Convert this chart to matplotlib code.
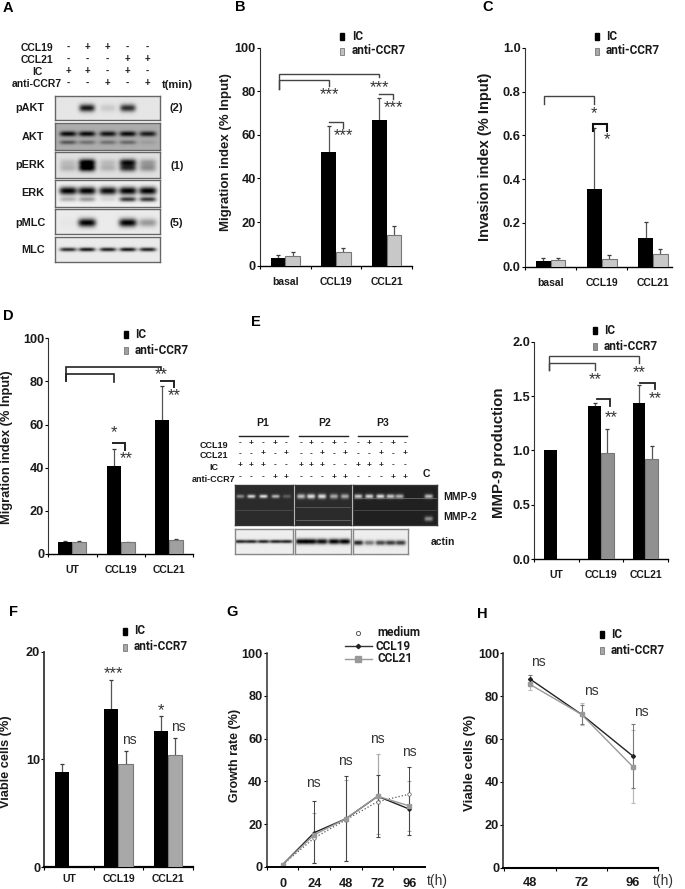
import numpy as np
import matplotlib
matplotlib.use("Agg")
import matplotlib.pyplot as plt
from matplotlib.patches import Rectangle

plt.rcParams['font.family'] = ['Liberation Sans', 'DejaVu Sans']

W, H = 685, 889
LEG_FONT = "Roboto"

# bar panels
cats_b = ["basal", "CCL19", "CCL21"]
cats_ut = ["UT", "CCL19", "CCL21"]

b_ic = [3.7, 52, 67]
b_anti = [4.3, 6.3, 14]
b_ic_top = [5, 64, 77]
b_anti_top = [6.2, 8.3, 18]

c_ic = [0.027, 0.355, 0.13]
c_anti = [0.032, 0.037, 0.058]
c_ic_top = [0.038, 0.632, 0.203]
c_anti_top = [0.042, 0.052, 0.083]

d_ic = [5.5, 41, 62]
d_anti = [5.5, 5.5, 6.5]
d_ic_top = [6, 48.5, 78]
d_anti_top = [6, 5.7, 7]

e_ic = [1.0, 1.41, 1.44]
e_anti = [np.nan, 0.98, 0.92]
e_ic_top = [np.nan, 1.44, 1.6]
e_anti_top = [np.nan, 1.2, 1.04]

f_ic = [8.8, 14.7, 12.6]
f_anti = [np.nan, 9.6, 10.4]
f_ic_top = [9.6, 17.4, 14]
f_anti_top = [np.nan, 10.8, 12]

# line panels
g_t = [0, 24, 48, 72, 96]
g_medium = [1, 13.5, 22, 30.5, 34]
g_ccl19 = [1, 16, 22.5, 33, 27]
g_ccl21 = [1, 15, 22.5, 33, 28.5]
g_ccl19_hi = [1, 31, 42.5, 43, 46.5]
g_ccl19_lo = [1, 1.5, 2.5, 14, 15]
g_ccl21_hi = [1, 25, 40.5, 53, 40]
g_ccl21_lo = [1, 1.5, 2.5, 15.5, 16.5]

h_t = ["48", "72", "96"]
h_ic = [88, 71.5, 52]
h_anti = [85.5, 71.5, 47]
h_ic_hi = [90, 76, 67]
h_ic_lo = [86, 67, 37]
h_anti_hi = [88, 77, 64]
h_anti_lo = [83, 66.5, 30]

# blots, band strength per lane
a_rows = ["pAKT", "AKT", "pERK", "ERK", "pMLC", "MLC"]
a_ccl19 = ["-", "+", "+", "-", "-"]
a_ccl21 = ["-", "-", "-", "+", "+"]
a_ic = ["+", "+", "-", "+", "-"]
a_anti = ["-", "-", "+", "-", "+"]
pakt = [0.0, 0.9, 0.12, 0.8, 0.0]
akt_hi = [0.95, 0.95, 0.9, 0.95, 0.85]
akt_lo = [0.5, 0.35, 0.35, 0.4, 0.1]
perk_hi = [0.15, 1.0, 0.15, 0.9, 0.3]
perk_lo = [0.2, 1.0, 0.2, 0.75, 0.35]
erk_hi = [1.0, 1.0, 0.95, 1.0, 1.0]
erk_lo = [0.25, 0.35, 0.1, 0.75, 0.75]
pmlc = [0.02, 1.0, 0.0, 1.0, 0.35]
mlc = [0.8, 0.9, 0.85, 0.9, 0.85]

e_ccl19 = ["-", "+", "-", "+", "-"]
e_ccl21 = ["-", "-", "+", "-", "+"]
e_icrow = ["+", "+", "+", "-", "-"]
e_antirow = ["-", "-", "-", "+", "+"]
mmp_p1 = [0.45, 0.8, 0.85, 0.65, 0.25]
mmp_p2 = [0.7, 0.85, 0.85, 0.6, 0.6]
mmp_p3 = [0.75, 0.8, 0.85, 0.75, 0.65, 0.7]
actin_p1 = [0.85, 0.85, 0.85, 0.85, 0.85]
actin_p2 = [1.0, 1.0, 0.95, 1.0, 1.0]
actin_p3 = [0.85, 0.5, 0.7, 0.75, 0.75]

fig = plt.figure(figsize=(W / 100, H / 100), dpi=100)


def px_axes(x0, x1, ytop, ybot):
    return fig.add_axes([x0 / W, 1 - ybot / H, (x1 - x0) / W, (ybot - ytop) / H])


# overlay in pixel coordinates for labels and brackets
ov = fig.add_axes([0, 0, 1, 1], zorder=10)
ov.set_xlim(0, W)
ov.set_ylim(H, 0)
ov.axis("off")
ov.patch.set_alpha(0)


def txt(x, y, s, size=7, weight="bold", ha="center", color="#1a1a1a", rot=0, family=None):
    ov.text(x, y, s, fontsize=size, fontweight=weight, ha=ha, va="center", color=color,
            rotation=rot, family=family if family else ['Liberation Sans', 'DejaVu Sans'])


def stars(x, y, s):
    # asterisks sit high in the font, so push them down
    ov.text(x, y + 3, s, fontsize=12, ha="center", va="center", color="#333333")


def ns(x, y):
    txt(x, y, "ns", size=10, weight="normal", color="#333333")


def bracket(x0, x1, y, y0, y1, lw=1.0, color="#444444"):
    ov.plot([x0, x0, x1, x1], [y0, y, y, y1], color=color, lw=lw, solid_joinstyle="miter")


def style_axes(ax, ticks, lw=1.0):
    ax.spines["top"].set_visible(False)
    ax.spines["right"].set_visible(False)
    ax.spines["left"].set_linewidth(lw * 0.8)
    ax.spines["left"].set_color("#333333")
    ax.spines["bottom"].set_linewidth(lw)
    ax.set_yticks(ticks)
    ax.tick_params(axis="y", length=2, width=0.8, labelsize=9.2, pad=1)
    ax.tick_params(axis="x", which="major", length=2, width=0.8, direction="out")
    ax.tick_params(axis="x", which="minor", length=0)
    ax.patch.set_alpha(0)
    for t in ax.get_yticklabels():
        t.set_fontweight("bold")
        t.set_color("#1a1a1a")


def bar_panel(rect, ylim, yfmt, ticks, cats, ic, anti, ic_top, anti_top, anti_col, xmax=2.5, lw=1.0, pad=8):
    ax = px_axes(*rect)
    x = np.arange(3)
    w = 0.29
    ax.vlines(x - w / 2, ic, ic_top, color="#555555", lw=0.9)
    ax.vlines(x + w / 2, anti, anti_top, color="#555555", lw=0.9)
    ax.scatter(x - w / 2, ic_top, marker="_", s=7, color="#333333", lw=0.9)
    ax.scatter(x + w / 2, anti_top, marker="_", s=7, color="#333333", lw=0.9)
    ax.bar(x - w / 2, ic, w, color="black", zorder=3)
    ax.bar(x + w / 2, anti, w, color=anti_col, edgecolor="#777777", lw=0.8, zorder=3)
    ax.set_xlim(-0.5, xmax)
    ax.set_ylim(*ylim)
    style_axes(ax, ticks, lw)
    ax.set_yticklabels([yfmt % t for t in ticks], fontweight="bold")
    ax.set_xticks(np.arange(-0.5, xmax + 0.01, 1.0))
    ax.set_xticklabels([])
    ax.set_xticks(x, minor=True)
    ax.set_xticklabels(cats, minor=True, fontsize=7.5, fontweight="bold", color="#1a1a1a")
    ax.tick_params(axis="x", which="minor", pad=pad)
    return ax


def bar_legend(xm, y1, y2, xt, anti_col):
    ov.add_patch(Rectangle((xm - 2, y1 - 3.5), 4, 7, color="black"))
    ov.add_patch(Rectangle((xm - 2, y2 - 3), 4, 6.5, facecolor=anti_col, edgecolor="#777777", lw=0.6))
    txt(xt, y1, "IC", size=8.5, ha="left", family=LEG_FONT)
    txt(xt, y2, "anti-CCR7", size=8.5, ha="left", family=LEG_FONT)


def blot(rect, bg, bands, dark=True, frame="#666666", extra=None):
    # bands: (y fraction, x fractions of the lanes, strengths, half width, half height)
    ax = px_axes(*rect)
    hh, ww = 60, 200
    yy, xx = np.mgrid[0:1:hh * 1j, 0:1:ww * 1j]
    sig = np.zeros_like(xx)
    for yc, lanes, vals, sx, sy in bands:
        for xc, v in zip(lanes, vals):
            sig = sig + v * np.exp(-((xx - xc) / sx) ** 4 - ((yy - yc) / sy) ** 2)
    sig = np.clip(sig, 0, 1)
    img = bg * (1 - sig) if dark else bg + (1 - bg) * sig
    ax.imshow(img, cmap="gray", vmin=0, vmax=1, extent=(0, 1, 1, 0), aspect="auto")
    if extra:
        for ye, c in extra:
            ax.axhline(ye, color=c, lw=0.5)
    ax.set_xticks([])
    ax.set_yticks([])
    for s in ax.spines.values():
        s.set_color(frame)
        s.set_linewidth(1.0)
    return ax


def signs(xs, y, vals, size=7):
    for x, v in zip(xs, vals):
        txt(x, y, "+" if v == "+" else "-", size=size, weight="bold", color="#222222")


# A
a_x0, a_x1 = 55, 160
a_lanes_px = [68, 87, 108, 128, 148]
a_lanes = [(p - a_x0) / (a_x1 - a_x0) for p in a_lanes_px]
blot((a_x0, a_x1, 96, 120), 0.9, [(0.5, a_lanes, pakt, 0.075, 0.16)])
blot((a_x0, a_x1, 123, 150), 0.68, [(0.4, a_lanes, akt_hi, 0.08, 0.1), (0.72, a_lanes, akt_lo, 0.08, 0.08)])
blot((a_x0, a_x1, 152, 178), 0.88, [(0.4, a_lanes, perk_hi, 0.08, 0.14), (0.62, a_lanes, perk_lo, 0.08, 0.14)])
blot((a_x0, a_x1, 180, 207), 0.94, [(0.4, a_lanes, erk_hi, 0.085, 0.15), (0.72, a_lanes, erk_lo, 0.08, 0.09)])
blot((a_x0, a_x1, 209, 234), 0.92, [(0.55, a_lanes, pmlc, 0.085, 0.17)])
blot((a_x0, a_x1, 237, 262), 0.92, [(0.5, a_lanes, mlc, 0.08, 0.08)])
for yr, name, xr in zip([108, 137, 165, 193, 223, 250], a_rows, [30, 33, 30, 33, 30, 33]):
    txt(xr, yr, name, size=7.8)
for yr, name, vals in zip([48, 60, 72, 84], ["CCL19", "CCL21", "IC", "anti-CCR7"],
                          [a_ccl19, a_ccl21, a_ic, a_anti]):
    txt(37, yr, name, size=7.5)
    signs([68, 87, 107, 127, 147], yr - 1, vals)
txt(177, 85, "t(min)", size=8)
txt(176, 108, "(2)", size=8)
txt(177, 166, "(1)", size=8)
txt(176, 223, "(5)", size=8)

# B
bar_panel((260, 412, 47.7, 265.7), (0, 100), "%d", [0, 20, 40, 60, 80, 100], cats_b,
          b_ic, b_anti, b_ic_top, b_anti_top, "#c8c8c8")
bar_legend(342, 36, 51, 352, "#c0c0c0")
bracket(279, 379, 74, 89, 77)
bracket(279, 329, 80, 89, 86)
stars(329, 92, "***")
stars(379, 85, "***")
bracket(329, 343, 122, 122, 128)
stars(343, 133, "***")
bracket(379, 393, 94, 94, 99)
stars(393, 105, "***")

# C
bar_panel((525, 672, 47.7, 266.7), (0, 1), "%.1f", [0, 0.2, 0.4, 0.6, 0.8, 1.0], cats_b,
          c_ic, c_anti, c_ic_top, c_anti_top, "#c8c8c8", xmax=2.37)
bar_legend(597, 36, 51, 606, "#a8a8a8")
bracket(544, 594, 96, 104, 104)
stars(594, 111, "*")
bracket(593, 607, 124, 131, 131, lw=1.5, color="#111111")
stars(607, 137, "*")

# D
bar_panel((48.3, 193, 338.3, 554), (0, 100), "%d", [0, 20, 40, 60, 80, 100], cats_ut,
          d_ic, d_anti, d_ic_top, d_anti_top, "#a0a0a0")
bar_legend(126, 334, 350, 135, "#a0a0a0")
bracket(66, 161, 367, 381, 370, lw=1.2, color="#222222")
bracket(66, 114, 374, 381, 382, lw=1.2, color="#222222")
stars(114, 430, "*")
stars(161, 372, "**")
bracket(113, 125, 443, 443, 450, lw=1.4, color="#222222")
stars(126, 456, "**")
bracket(161, 174, 381, 381, 387, lw=1.4, color="#222222")
stars(174, 393, "**")

# E blots and zymogram
p1 = [(p - 235) / 58 for p in [240, 251, 263, 275, 286]]
p2 = [(p - 295) / 56 for p in [301, 311, 322, 334, 345]]
p3 = [(p - 353) / 84 for p in [358, 369, 380, 390, 399, 428]]
blot((235, 293, 485, 525), 0.17, [(0.28, p1, mmp_p1, 0.07, 0.045)], dark=False, frame="#333333",
     extra=[(0.62, "#555555")])
blot((295, 351, 485, 525), 0.17, [(0.28, p2, mmp_p2, 0.075, 0.06)], dark=False, frame="#333333",
     extra=[(0.55, "#666666"), (0.88, "#777777")])
blot((353, 437, 485, 525), 0.13, [(0.28, p3, mmp_p3, 0.05, 0.055), (0.85, [p3[5]], [0.5], 0.05, 0.06)],
     dark=False, frame="#333333", extra=[(0.32, "#777777"), (0.62, "#555555")])
ap1 = [(p - 235) / 58 for p in [240, 251, 263, 275, 286]]
ap2 = [(p - 295) / 56 for p in [301, 311, 322, 334, 345]]
ap3 = [(p - 353) / 55 for p in [358, 369, 380, 390, 400]]
blot((235, 293, 529, 554), 0.93, [(0.5, ap1, actin_p1, 0.1, 0.07)], frame="#888888")
blot((295, 351, 529, 554), 0.93, [(0.5, ap2, actin_p2, 0.1, 0.11)], frame="#888888")
blot((353, 408, 529, 554), 0.93, [(0.55, ap3, actin_p3, 0.09, 0.1)], frame="#888888")
for xm, xl, xr, name in zip([263, 325, 383], [239, 299, 358], [288, 348, 407], ["P1", "P2", "P3"]):
    txt(xm, 423, name, size=7.5)
    ov.plot([xl, xr], [436, 436], color="#222222", lw=1.0)
e_groups = [[240, 251, 263, 275, 286], [301, 311, 322, 334, 345], [358, 369, 381, 393, 405]]
for yr, name, vals in zip([445, 456, 467, 479], ["CCL19", "CCL21", "IC", "anti-CCR7"],
                          [e_ccl19, e_ccl21, e_icrow, e_antirow]):
    txt(214, yr, name, size=6.5)
    for g in e_groups:
        signs(g, yr - 2, vals, size=6)
txt(426, 474, "C", size=7.5)
txt(460, 497, "MMP-9", size=7.5)
txt(460, 517, "MMP-2", size=7.5)
txt(443, 542, "actin", size=7.5)

# E bars
bar_panel((534.3, 667.7, 341.7, 559.3), (0, 2), "%.1f", [0, 0.5, 1.0, 1.5, 2.0], cats_ut,
          e_ic, e_anti, e_ic_top, e_anti_top, "#909090", pad=8)
bar_legend(595, 330, 346, 604, "#909090")
bracket(549, 639, 356, 370, 363)
bracket(549, 595, 363, 370, 370)
stars(595, 377, "**")
stars(639, 370, "**")
bracket(597, 610, 399, 399, 406, lw=1.3, color="#222222")
stars(611, 415, "**")
bracket(640, 655, 383, 383, 389, lw=1.3, color="#222222")
stars(655, 396, "**")

# F
bar_panel((44.3, 192.7, 651.7, 867), (0, 20), "%d", [0, 10, 20], cats_ut,
          f_ic, f_anti, f_ic_top, f_anti_top, "#a8a8a8", lw=1.6, pad=5)
bar_legend(125, 631, 647, 134, "#a8a8a8")
stars(113, 671, "***")
stars(161, 708, "*")
ns(129, 740)
ns(178, 727)

# G
ax = px_axes(266.7, 425, 653.3, 866.7)
ax.errorbar(g_t, g_ccl21, yerr=[np.subtract(g_ccl21, g_ccl21_lo), np.subtract(g_ccl21_hi, g_ccl21)],
            fmt="none", ecolor="#aaaaaa", elinewidth=0.9, capsize=1.5, capthick=0.8)
ax.errorbar(g_t, g_ccl19, yerr=[np.subtract(g_ccl19, g_ccl19_lo), np.subtract(g_ccl19_hi, g_ccl19)],
            fmt="none", ecolor="#444444", elinewidth=0.7, capsize=1.5, capthick=0.8)
ax.plot(g_t, g_medium, color="#555555", ls=":", lw=0.9, marker="o", ms=2.5, mfc="white", mew=0.5)
ax.plot(g_t, g_ccl19, color="#222222", lw=1.0, marker="D", ms=1.8)
ax.plot(g_t, g_ccl21, color="#999999", lw=1.0, marker="s", ms=2.5)
ax.set_xlim(-12.1, 107.9)
ax.set_ylim(0, 100)
style_axes(ax, [0, 20, 40, 60, 80, 100], 1.4)
ax.set_xticks(np.arange(-12, 108, 24))
ax.set_xticklabels([])
ax.set_xticks(g_t, minor=True)
ax.set_xticklabels([str(t) for t in g_t], minor=True, fontsize=9.2, fontweight="bold", color="#1a1a1a")
ax.tick_params(axis="x", which="minor", pad=8)
ov.plot([358], [633], marker="o", ms=3, mfc="white", mec="#444444", mew=0.6)
ov.plot([345, 372], [646, 646], color="#333333", lw=1.0)
ov.plot([358.5], [646], marker="D", ms=2.2, color="#222222")
ov.plot([345, 372], [659, 659], color="#999999", lw=1.0)
ov.plot([358.5], [659], marker="s", ms=4.5, color="#999999")
txt(377, 632, "medium", size=8.5, ha="left", family=LEG_FONT)
txt(376, 646, "CCL19", size=8.5, ha="left", family=LEG_FONT)
txt(378, 659, "CCL21", size=8.5, ha="left", family=LEG_FONT)
for xn, yn in zip([313, 345, 377, 409], [783, 761, 739, 752]):
    ns(xn, yn)
txt(437, 881, "t(h)", size=10, weight="normal", color="#333333")

# H
ax = px_axes(503.3, 658.3, 653.3, 867.7)
hx = np.arange(3)
ax.errorbar(hx, h_anti, yerr=[np.subtract(h_anti, h_anti_lo), np.subtract(h_anti_hi, h_anti)],
            fmt="none", ecolor="#bbbbbb", elinewidth=0.9, capsize=1.5, capthick=0.8)
ax.errorbar(hx, h_ic, yerr=[np.subtract(h_ic, h_ic_lo), np.subtract(h_ic_hi, h_ic)],
            fmt="none", ecolor="#777777", elinewidth=0.7, capsize=1.5, capthick=0.8)
ax.plot(hx, h_ic, color="#222222", lw=1.0, marker="D", ms=2)
ax.plot(hx, h_anti, color="#999999", lw=1.0, marker="s", ms=3.5)
ax.set_xlim(-0.518, 2.49)
ax.set_ylim(0, 100)
style_axes(ax, [0, 20, 40, 60, 80, 100], 1.5)
ax.set_xticks([-0.5, 0.5, 1.5, 2.49])
ax.set_xticklabels([])
ax.set_xticks(hx, minor=True)
ax.set_xticklabels(h_t, minor=True, fontsize=9.2, fontweight="bold", color="#1a1a1a")
ax.tick_params(axis="x", which="minor", pad=7)
bar_legend(602, 634, 650, 611, "#a8a8a8")
for xn, yn in zip([538, 591, 641], [662, 691, 712]):
    ns(xn, yn)
txt(663, 881, "t(h)", size=10, weight="normal", color="#333333")

# y labels
for xl, yl, s, size in [(226, 152, "Migration index (% Input)", 9.5),
                        (485, 157, "Invasion index (% Input)", 10.5),
                        (7, 447, "Migration index (% Input)", 9.3),
                        (499, 453, "MMP-9 production", 10.8),
                        (6, 762, "Viable cells (%)", 9.2),
                        (235, 755, "Growth rate (%)", 9),
                        (470, 763, "Viable cells (%)", 9.5)]:
    txt(xl, yl, s, size=size, rot=90)

# panel letters
for xl, yl, s in [(8, 8, "A"), (240, 7, "B"), (488, 7, "C"), (8, 316, "D"), (256, 322, "E"),
                  (14, 612, "F"), (232, 612, "G"), (482, 614, "H")]:
    txt(xl, yl, s, size=10.5, color="black")

fig.savefig("out.png", dpi=100)
